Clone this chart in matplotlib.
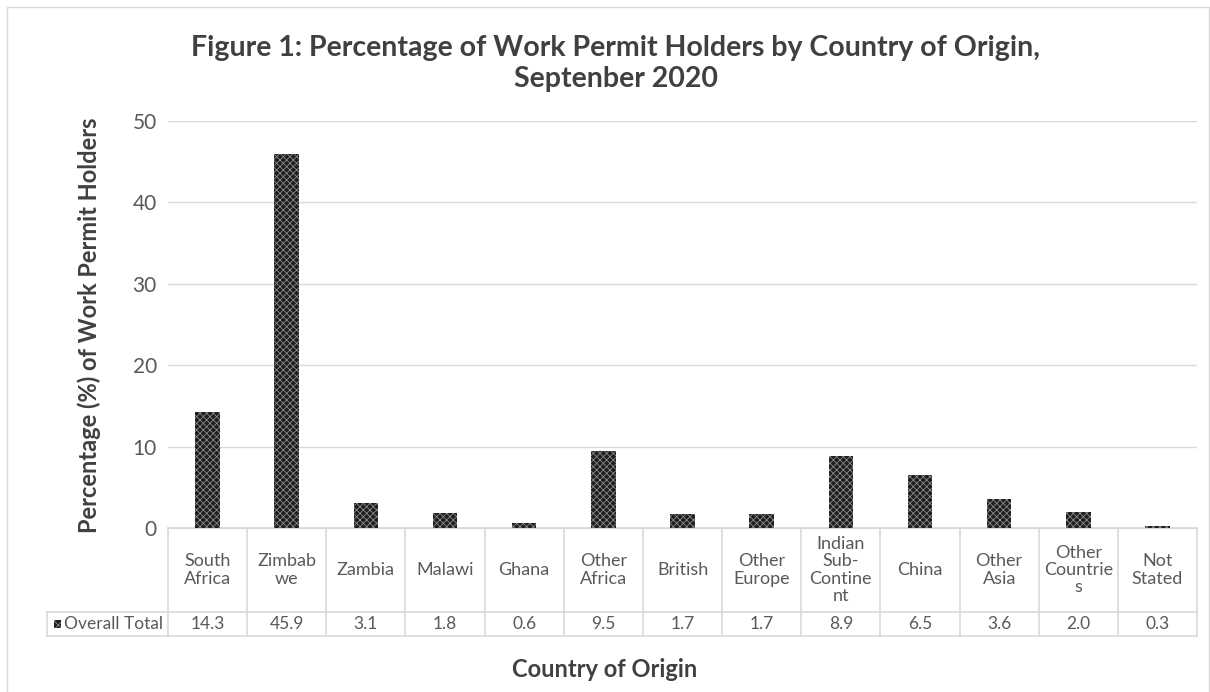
import matplotlib.pyplot as plt
from matplotlib.patches import Rectangle
from matplotlib.transforms import blended_transform_factory

# data
countries = ["South\nAfrica", "Zimbab\nwe", "Zambia", "Malawi", "Ghana", "Other\nAfrica",
             "British", "Other\nEurope", "Indian\nSub-\nContine\nnt", "China", "Other\nAsia",
             "Other\nCountrie\ns", "Not\nStated"]
overall_total = [14.3, 45.9, 3.1, 1.8, 0.6, 9.5, 1.7, 1.7, 8.9, 6.5, 3.6, 2.0, 0.3]
series_name = "Overall Total"

plt.rcParams['font.family'] = ['Lato', 'DejaVu Sans']
plt.rcParams['hatch.linewidth'] = 0.6

grid_col = '#d9d9d9'
txt_col = '#595959'

fig = plt.figure(figsize=(12.1, 6.92), dpi=100)
ax = fig.add_axes([0.1388, 0.237, 0.8505, 0.588])

x = list(range(len(countries)))
ax.bar(x, overall_total, width=0.31, color='#1e1e1e', edgecolor='#8a8a8a',
       linewidth=0, hatch='xxxxx', zorder=3)

ax.set_xlim(-0.5, len(countries) - 0.5)
ax.set_ylim(0, 50)
ax.set_yticks(range(0, 51, 10))
ax.tick_params(axis='y', length=0, labelsize=15, labelcolor=txt_col, pad=8)
ax.set_xticks([])
ax.grid(axis='y', color=grid_col, linewidth=1, zorder=0)
for s in ['top', 'right', 'left']:
    ax.spines[s].set_visible(False)
ax.spines['bottom'].set_color(grid_col)

# data table under the axis
tr = blended_transform_factory(ax.transData, ax.transAxes)
h1, h2 = -0.2064, -0.2654
left_x = -2.03
kw = dict(color=grid_col, linewidth=1.2, transform=tr, clip_on=False)
ax.plot([-0.5, len(countries) - 0.5], [0, 0], **kw)
ax.plot([left_x, len(countries) - 0.5], [h1, h1], **kw)
ax.plot([left_x, len(countries) - 0.5], [h2, h2], **kw)
ax.plot([left_x, left_x], [h1, h2], **kw)
for i in range(len(countries) + 1):
    ax.plot([i - 0.5, i - 0.5], [0, h2], **kw)

for i, (c, v) in enumerate(zip(countries, overall_total)):
    ax.text(i, h1 / 2, c, transform=tr, ha='center', va='center',
            fontsize=13, color=txt_col, linespacing=1.1)
    ax.text(i, (h1 + h2) / 2, f"{v:.1f}", transform=tr, ha='center', va='center',
            fontsize=12.5, color=txt_col)

ax.add_patch(Rectangle((left_x + 0.09, (h1 + h2) / 2 - 0.011), 0.09, 0.022, transform=tr,
                       facecolor='#1e1e1e', edgecolor='#8a8a8a', linewidth=0,
                       hatch='xxxx', clip_on=False))
ax.text(left_x + 0.22, (h1 + h2) / 2, series_name, transform=tr, ha='left', va='center',
        fontsize=12.5, color=txt_col)

fig.text(0.509, 0.908, "Figure 1: Percentage of Work Permit Holders by Country of Origin,\nSeptenber 2020",
         ha='center', va='center', fontsize=20.5, fontweight='bold', color='#404040',
         linespacing=1.25)
fig.text(0.074, 0.53, "Percentage (%) of Work Permit Holders", rotation=90,
         ha='center', va='center', fontsize=17, fontweight='bold', color='#404040')
fig.text(0.5, 0.032, "Country of Origin", ha='center', va='center',
         fontsize=17, fontweight='bold', color='#404040')

fig.patches.append(Rectangle((7 / 1210, -0.01), 1 - 8 / 1210, 1 - 7 / 692 + 0.01,
                             transform=fig.transFigure, fill=False,
                             edgecolor=grid_col, linewidth=1))

fig.savefig('out.png', dpi=100)
